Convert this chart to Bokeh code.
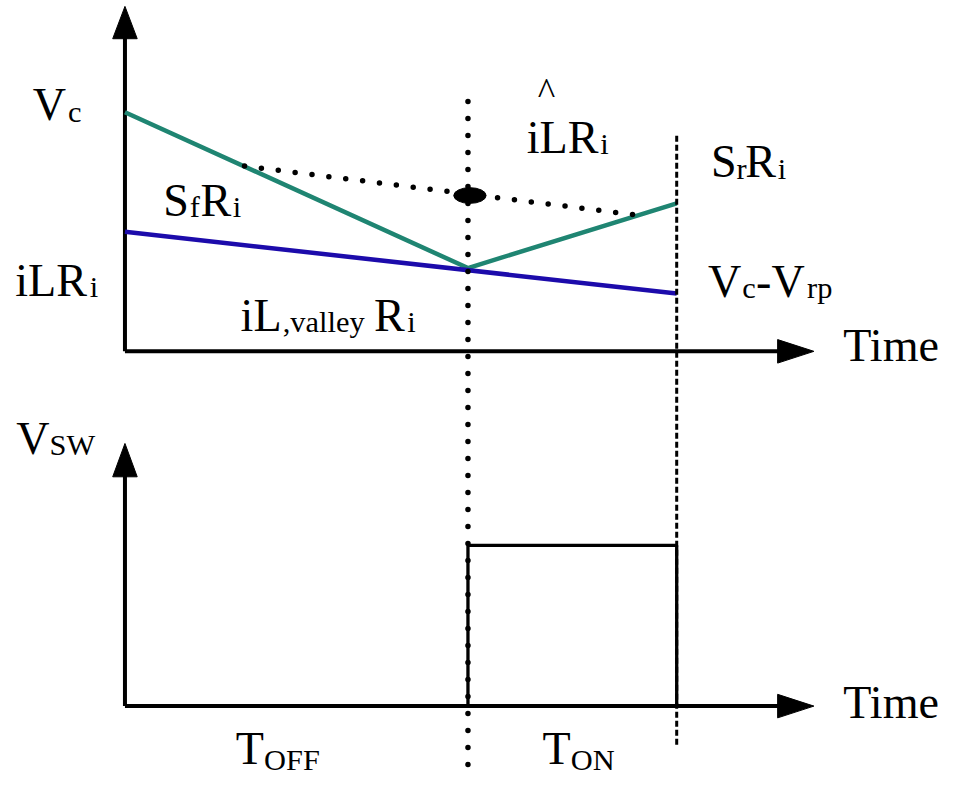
from bokeh.plotting import figure
from bokeh.models import Range1d
from bokeh.core.properties import value
from bokeh.embed import file_html
from bokeh.resources import INLINE

# ---------------- data (time in arbitrary units, levels in arbitrary units) -------------
t_axis_end = 7.03          # end of time axes (arrow tip)
t_off_end = 3.50           # end of T_OFF (valley instant)
t_on_end = 5.63            # end of T_ON

ramp_t = [0.0, 3.50, 5.63]        # control voltage with slope compensation (teal)
ramp_v = [2.44, 0.85, 1.51]
il_t = [0.0, 5.63]                # sensed inductor current iL*Ri (blue)
il_v = [1.22, 0.59]
chord_t = [1.22, 5.23]            # dotted chord between the two ramp slopes
chord_v = [1.89, 1.39]
avg_t = [3.52]                    # marked mid point
avg_v = [1.59]
top_axis_tip = 3.52               # top panel vertical axis tip

vsw_t = [3.50, 3.50, 5.63, 5.63]  # switch node voltage pulse
vsw_v = [0.0, 1.0, 1.0, 0.0]
sw_axis_tip = 1.634

guide_off = [2.55, -4.22]         # extent of T_OFF/T_ON boundary (top-panel units)
guide_on = [2.20, -4.04]          # extent of end-of-period boundary

# ---------------- layout ----------------
W, H = 952, 777
K = 0.98              # overall drawing scale
PXX = 100.0 * K       # px per time unit
PXY = 100.0 * K       # px per level unit (top panel)
PXS = 164.0 * K       # px per level unit (switch panel)
ox = 127.0 * K        # x of time origin inside the figure
oy_top = 358.0 * K    # baseline of top panel from figure top
oy_sw = 720.0 * K     # baseline of switch panel from figure top
TEXT_DY = 13.0        # correction of rendered text baseline (px)

x0 = -ox / PXX
y1 = oy_top / PXY
s1 = oy_sw / PXS

p = figure(width=W, height=H, output_backend="svg", toolbar_location=None,
           x_axis_type=None, y_axis_type=None, min_border=0,
           x_range=Range1d(x0, x0 + W / PXX), y_range=Range1d(y1 - H / PXY, y1))
p.extra_y_ranges = {"sw": Range1d(s1 - H / PXS, s1)}
p.outline_line_color = None
p.background_fill_color = "white"
p.border_fill_color = "white"

BLACK = "#000000"
TEAL = "#1f8572"
BLUE = "#1c0bab"

def head(tip_x, tip_y, direction, length_px, half_px, pyu):
    length_px *= K
    half_px *= K
    if direction == "up":
        xs = [tip_x, tip_x - half_px / PXX, tip_x + half_px / PXX]
        ys = [tip_y, tip_y - length_px / pyu, tip_y - length_px / pyu]
    else:
        xs = [tip_x, tip_x - length_px / PXX, tip_x - length_px / PXX]
        ys = [tip_y, tip_y + half_px / pyu, tip_y - half_px / pyu]
    return xs, ys

# --- top panel axes
p.line([0, 0], [0, top_axis_tip - 0.2], line_color=BLACK, line_width=4)
p.line([0, t_axis_end - 0.2], [0, 0], line_color=BLACK, line_width=4)
hx, hy = head(0, top_axis_tip, "up", 33, 12.5, PXY)
p.patch(hx, hy, fill_color=BLACK, line_color=BLACK, line_width=1)
hx, hy = head(t_axis_end, 0, "right", 37, 12, PXY)
p.patch(hx, hy, fill_color=BLACK, line_color=BLACK, line_width=1)

# --- top panel waveforms
p.line(ramp_t, ramp_v, line_color=TEAL, line_width=4.5, line_join="round")
p.line(il_t, il_v, line_color=BLUE, line_width=4.5)
p.line(chord_t, chord_v, line_color=BLACK, line_width=5.5, line_dash="0 17",
       line_cap="round")
p.ellipse(avg_t, avg_v, width=0.33, height=0.16, fill_color=BLACK, line_color=BLACK)

# --- switch panel axes
p.line([0, 0], [0, sw_axis_tip - 0.15], line_color=BLACK, line_width=4,
       y_range_name="sw")
p.line([0, t_axis_end - 0.2], [0, 0], line_color=BLACK, line_width=4,
       y_range_name="sw")
hx, hy = head(0, sw_axis_tip, "up", 34, 12.5, PXS)
p.patch(hx, hy, fill_color=BLACK, line_color=BLACK, line_width=1, y_range_name="sw")
hx, hy = head(t_axis_end, 0, "right", 37, 12, PXS)
p.patch(hx, hy, fill_color=BLACK, line_color=BLACK, line_width=1, y_range_name="sw")

p.line(vsw_t, vsw_v, line_color=BLACK, line_width=3.3, y_range_name="sw")

# --- guide lines
p.line([t_off_end, t_off_end], guide_off, line_color=BLACK, line_width=5.5,
       line_dash="0 17", line_cap="round")
p.line([t_on_end, t_on_end], guide_on, line_color=BLACK, line_width=3,
       line_dash="6 3")

# ---------------- texts ----------------
FONT = "Liberation Serif"
M, S = 47, 31

def P(xp, yp):
    return (xp * K - ox) / PXX, (oy_top - (yp * K - TEXT_DY)) / PXY

pieces = [
    ("V", 33, 119, M), ("c", 69, 127, S),
    ("S", 166, 217, M), ("f", 193, 224, S), ("R", 204, 217, M), ("i", 237, 224, S),
    ("iLR", 15, 299, M), ("i", 91, 306, S),
    ("iL", 245, 335, M), (",valley", 288, 341, S), ("R", 381, 335, M), ("i", 415, 341, S),
    ("iLR", 537, 153, M), ("i", 612, 160, S),
    ("S", 725, 178, M), ("r", 751, 185, S), ("R", 760, 178, M), ("i", 793, 185, S),
    ("V", 722, 300, M), ("c", 757, 307, S), ("-V", 771, 300, M), ("rp", 823, 307, S),
    ("Time", 860, 365, M),
    ("V", 16, 460, M), ("SW", 50, 467, S),
    ("Time", 860, 730, M),
    ("T", 240, 777, M), ("OFF", 269, 788, S),
    ("T", 553, 777, M), ("ON", 582, 788, S),
]
for size in (M, S):
    sel = [q for q in pieces if q[3] == size]
    xs, ys = zip(*[P(q[1], q[2]) for q in sel])
    p.text(list(xs), list(ys), text=[q[0] for q in sel],
           text_font=value(FONT), text_font_size=value(f"{size * K:.1f}px"),
           text_baseline="alphabetic", text_align="left", text_color=BLACK)

hx, hy = P(557, 106)
p.text([hx], [hy], text=["^"], text_font=value(FONT),
       text_font_size=value(f"{38 * K:.1f}px"),
       text_baseline="alphabetic", text_align="center", text_color=BLACK)

open("out.html", "w").write(file_html(p, INLINE))
